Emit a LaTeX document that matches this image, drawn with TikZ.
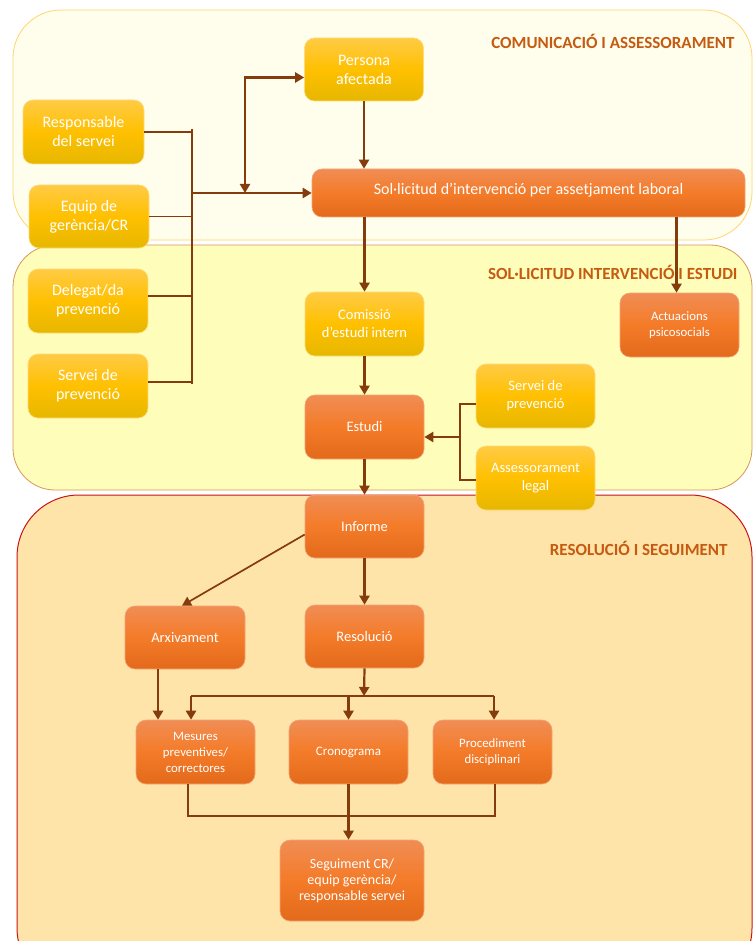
\documentclass[tikz,border=0pt]{standalone}
\usepackage{fontspec}
\setmainfont{Carlito}
\usetikzlibrary{arrows.meta}

\definecolor{brownline}{HTML}{843C0C}
\definecolor{titletxt}{HTML}{C55A11}
\definecolor{ytop}{HTML}{FFCB45}
\definecolor{ymid}{HTML}{FFC000}
\definecolor{ybot}{HTML}{E6B700}
\definecolor{otop}{HTML}{F08D55}
\definecolor{omid}{HTML}{F47B28}
\definecolor{obot}{HTML}{E36A1B}

\begin{document}
\begin{tikzpicture}[x=1pt, y=-1pt,
    box/.style={rounded corners=10pt, inner sep=2pt, align=center,
        text=white, minimum width=119pt, minimum height=64pt},
    ybox/.style={box, draw=ytop!70!white, line width=0.6pt,
        top color=ytop, bottom color=ybot, middle color=ymid},
    obox/.style={box, draw=otop!80!white, line width=0.6pt,
        top color=otop, bottom color=obot, middle color=omid},
    big/.style={font=\fontsize{16}{19}\selectfont},
    mid/.style={font=\fontsize{14.5}{18}\selectfont},
    small/.style={font=\fontsize{12.8}{16}\selectfont},
    title/.style={anchor=east, text=titletxt, font=\fontsize{17}{20}\selectfont\bfseries},
    link/.style={draw=brownline, line width=1.6pt},
    arr/.style={link, line width=2.2pt, -{Triangle[length=9pt,width=10pt]}},
    dblarr/.style={link, line width=2.2pt, {Triangle[length=9pt,width=10pt]}-{Triangle[length=9pt,width=10pt]}}]

    \useasboundingbox (0,0) rectangle (753,941);
    \clip (0,0) rectangle (753,941);

    % phase areas
    \filldraw[fill=white, draw=none] (0,0) rectangle (753,941);
    \filldraw[fill={rgb,255:red,255;green,254;blue,236}, draw={rgb,255:red,255;green,213;blue,110},
        line width=0.8pt, rounded corners=48pt] (13,10) rectangle (752,240);
    \filldraw[fill={rgb,255:red,255;green,253;blue,186}, draw={rgb,255:red,214;green,150;blue,90},
        line width=0.8pt, rounded corners=42pt] (13,245) rectangle (752,490);
    \filldraw[fill={rgb,255:red,255;green,228;blue,170}, draw={rgb,255:red,200;green,20;blue,20},
        line width=1pt, rounded corners=62pt] (17,495) rectangle (752,990);

    \node[title] (t1) at (738,41) {COMUNICACIÓ I ASSESSORAMENT};
    \node[title] (t2) at (741,272) {SOL·LICITUD INTERVENCIÓ I ESTUDI};
    \node[title] (t3) at (731,548) {RESOLUCIÓ I SEGUIMENT};

    % communication
    \node[ybox, big, minimum height=63pt] (persona) at (364,69.5) {Persona\\afectada};
    \node[ybox, big, minimum width=121pt] (resp) at (83.5,132) {Responsable\\del servei};
    \node[ybox, big, minimum width=120pt, minimum height=63pt] (equip) at (89,216.5) {Equip de\\gerència/CR};
    \node[obox, big, minimum width=433pt, minimum height=48pt, text depth=8pt] (sol) at (528.5,193)
        {Sol·licitud d’intervenció per assetjament laboral};

    % request and study
    \node[ybox, big, minimum width=120pt] (deleg) at (88,301) {Delegat/da\\prevenció};
    \node[ybox, big, minimum width=120pt] (servL) at (88,386) {Servei de\\prevenció};
    \node[ybox, mid] (comis) at (364.5,324) {Comissió\\d’estudi intern};
    \node[obox, small] (actu) at (679.5,325) {Actuacions\\psicosocials};
    \node[ybox, mid] (servR) at (535.5,396) {Servei de\\prevenció};
    \node[obox, mid] (estudi) at (364.5,427) {Estudi};
    \node[ybox, mid] (asses) at (535.5,478) {Assessorament\\legal};

    % resolution and follow-up
    \node[obox, mid, minimum height=63pt] (informe) at (364.5,526.5) {Informe};
    \node[obox, mid, minimum width=120pt, minimum height=63pt] (arxiv) at (185,637.5) {Arxivament};
    \node[obox, mid, minimum height=63pt] (resol) at (364.5,636.5) {Resolució};
    \node[obox, small] (mesures) at (195.5,752) {Mesures\\preventives/\\correctores};
    \node[obox, font=\fontsize{13}{16}\selectfont] (crono) at (348.5,752) {Cronograma};
    \node[obox, small] (proced) at (492.5,752) {Procediment\\disciplinari};
    \node[obox, font=\fontsize{14}{16}\selectfont, minimum width=144pt, minimum height=81pt] (segui) at (352,880.5)
        {Seguiment CR/\\equip gerència/\\responsable servei};

    % left bus
    \coordinate (busTop) at (192,129);
    \coordinate (busBot) at (192,384);
    \coordinate (busMid) at (192,193);
    \coordinate (split) at (245,193);
    \draw[link] (busTop) -- (busBot);
    \draw[link] (resp.east) -- (resp.east -| busTop);
    \draw[link] (equip.east) -- (equip.east -| busTop);
    \draw[link] ([yshift=5pt]deleg.east) -- ([yshift=5pt]deleg.east -| busTop);
    \draw[link] ([yshift=4pt]servL.east) -- ([yshift=4pt]servL.east -| busTop);
    \draw[arr] (busMid) -- (sol.west);
    \draw[dblarr] (split) |- ([yshift=-8pt]persona.west);
    \draw[arr] (persona.south) -- (persona.south |- sol.north);

    \draw[arr] (sol.south -| comis.north) -- (comis.north);
    \draw[arr] (sol.south -| actu.north) ++(-3,0) -- ([xshift=-3pt]actu.north);
    \draw[arr] (comis.south) -- (estudi.north);

    % advice to study
    \coordinate (busR) at (460,437);
    \draw[link] ([yshift=-8pt]servR.west) -| (busR) |- ([yshift=-2pt]asses.west);
    \draw[arr] (busR) -- (busR -| estudi.east);
    \draw[arr] (estudi.south) -- (informe.north);

    % report
    \draw[arr, line width=1.7pt] ([yshift=-8pt]informe.west) -- ([xshift=-3pt]arxiv.north);
    \draw[arr] (informe.south) -- (resol.north);
    \coordinate (arxDown) at (158,669);
    \draw[arr] (arxDown) -- (arxDown |- mesures.north);

    % resolution bus
    \coordinate (busRes) at (364,696);
    \coordinate (busResL) at (191,696);
    \coordinate (busResR) at (494,696);
    \draw[arr] (resol.south) -- (busRes);
    \draw[link] (busResL) -- (busResR);
    \draw[arr] (busResL) -- (busResL |- mesures.north);
    \draw[arr] (crono.north |- busRes) -- (crono.north);
    \draw[arr] (busResR) -- (busResR |- proced.north);

    % follow-up
    \coordinate (joinL) at (188,816);
    \coordinate (joinR) at (495,816);
    \draw[link] (joinL |- mesures.south) -- (joinL) -- (joinR) -- (joinR |- proced.south);
    \draw[arr] (crono.south) -- (crono.south |- segui.north);

\end{tikzpicture}
\end{document}
